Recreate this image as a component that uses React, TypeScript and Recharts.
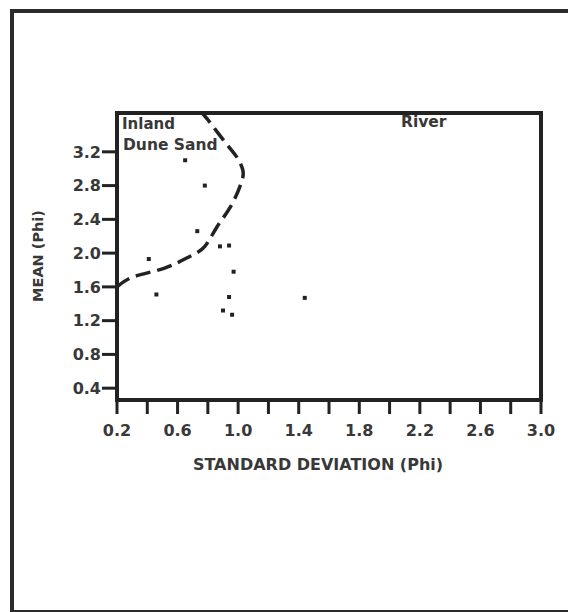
import React from 'react';
import { ScatterChart, Scatter, XAxis, YAxis, ReferenceArea } from 'recharts';

// standard deviation (x) and mean (y) of each sample, in phi
const sdValues = [0.65, 0.78, 0.73, 0.88, 0.94, 0.41, 0.97, 0.46, 0.94, 0.90, 0.96, 1.44];
const meanValues = [3.10, 2.80, 2.26, 2.08, 2.09, 1.93, 1.78, 1.51, 1.48, 1.32, 1.27, 1.47];

// dashed boundary between inland dune sand and river fields
const boundarySd = [0.2, 0.31, 0.51, 0.68, 0.78, 0.86, 0.95, 1.02, 1.03, 0.99, 0.92, 0.8, 0.76];
const boundaryMean = [1.6, 1.72, 1.82, 1.96, 2.08, 2.31, 2.55, 2.83, 2.99, 3.14, 3.3, 3.58, 3.66];

const xTicks = [0.2, 0.4, 0.6, 0.8, 1.0, 1.2, 1.4, 1.6, 1.8, 2.0, 2.2, 2.4, 2.6, 2.8, 3.0];
const xLabelled = [0.2, 0.6, 1.0, 1.4, 1.8, 2.2, 2.6, 3.0];
const yTicks = [0.4, 0.8, 1.2, 1.6, 2.0, 2.4, 2.8, 3.2];

const xDomain: [number, number] = [0.2, 3.0];
const yDomain: [number, number] = [0.26, 3.66];

const samples = sdValues.map((sd, i) => ({ sd, mean: meanValues[i] }));
const boundary = boundarySd.map((sd, i) => ({ sd, mean: boundaryMean[i] }));

const FONT = '"DejaVu Sans", Arial, sans-serif';
const INK = '#222';
const TEXT = '#383838';

const tickStyle = { fill: TEXT, fontSize: 16, fontWeight: 700, fontFamily: FONT };

const Dot = (props: any) => <rect x={props.cx - 2} y={props.cy - 2} width={4} height={4} fill={INK} />;

export default function App() {
    return (
        <div style={{ position: 'absolute', left: 0, top: 0, width: 568, height: 612, background: '#fff' }}>
            <div
                style={{
                    position: 'absolute',
                    left: 10,
                    top: 9,
                    width: 556,
                    height: 597,
                    border: '4px solid #2b2b2b',
                    borderRight: '1px solid #ddd',
                }}
            />
            <div style={{ position: 'absolute', left: 0, top: 0 }}>
                <ScatterChart width={568} height={612} margin={{ top: 113, right: 27, bottom: 182, left: 57 }}>
                    <XAxis
                        type="number"
                        dataKey="sd"
                        domain={xDomain}
                        ticks={xTicks}
                        allowDataOverflow
                        tickFormatter={(v: number) => (xLabelled.some((l) => Math.abs(l - v) < 1e-6) ? v.toFixed(1) : '')}
                        axisLine={{ stroke: INK, strokeWidth: 4 }}
                        tickLine={{ stroke: INK, strokeWidth: 3 }}
                        tickSize={14}
                        tickMargin={11}
                        tick={tickStyle}
                        height={30}
                        interval={0}
                    />
                    <YAxis
                        type="number"
                        dataKey="mean"
                        domain={yDomain}
                        ticks={yTicks}
                        allowDataOverflow
                        tickFormatter={(v: number) => v.toFixed(1)}
                        axisLine={{ stroke: INK, strokeWidth: 4 }}
                        tickLine={{ stroke: INK, strokeWidth: 3 }}
                        tickSize={15}
                        tickMargin={1}
                        tick={tickStyle}
                        width={60}
                        interval={0}
                    />
                    <ReferenceArea
                        x1={xDomain[0]}
                        x2={xDomain[1]}
                        y1={yDomain[0]}
                        y2={yDomain[1]}
                        fill="none"
                        stroke={INK}
                        strokeWidth={4}
                        ifOverflow="visible"
                    />
                    <Scatter
                        data={boundary}
                        line={{ stroke: INK, strokeWidth: 3.5, strokeDasharray: '15 7' }}
                        lineJointType="natural"
                        shape={() => <g />}
                        isAnimationActive={false}
                    />
                    <Scatter data={samples} shape={<Dot />} isAnimationActive={false} />
                    <text x={122} y={129} fill={TEXT} fontSize={15} fontWeight={700} fontFamily={FONT}>
                        Inland
                    </text>
                    <text x={123} y={150} fill={TEXT} fontSize={15.5} fontWeight={700} fontFamily={FONT}>
                        Dune Sand
                    </text>
                    <text x={401} y={127} fill={TEXT} fontSize={15.5} fontWeight={700} fontFamily={FONT}>
                        River
                    </text>
                    <text
                        x={38}
                        y={256}
                        transform="rotate(-90, 38, 256)"
                        textAnchor="middle"
                        dominantBaseline="central"
                        fill={TEXT}
                        fontSize={14.5}
                        fontWeight={700}
                        fontFamily={FONT}
                    >
                        MEAN (Phi)
                    </text>
                    <text
                        x={318}
                        y={464}
                        textAnchor="middle"
                        dominantBaseline="central"
                        fill={TEXT}
                        fontSize={16}
                        fontWeight={700}
                        fontFamily={FONT}
                    >
                        STANDARD DEVIATION (Phi)
                    </text>
                </ScatterChart>
            </div>
        </div>
    );
}
